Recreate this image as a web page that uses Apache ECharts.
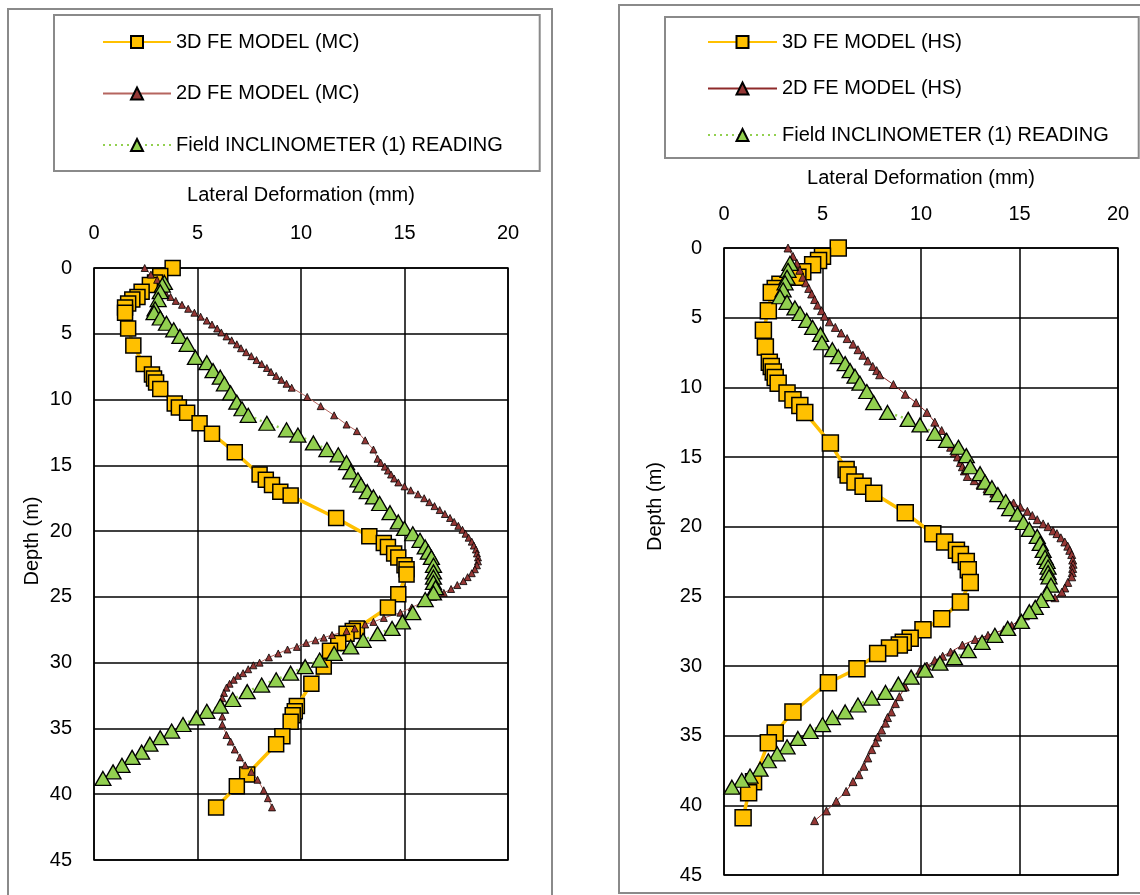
<!DOCTYPE html>
<html><head><meta charset="utf-8">
<script src="https://cdn.jsdelivr.net/npm/echarts@6/dist/echarts.min.js"></script>
<style>html,body{margin:0;padding:0;background:#fff}#c{width:1140px;height:895px}</style>
</head><body><div id="c"></div>
<script>
// [lateral deformation (mm), depth (m)]
const fe3dMC = [[3.8,0],[3.2,0.6],[2.95,1.1],[2.7,1.3],[2.3,1.8],[2.1,2.2],[1.85,2.4],[1.65,2.7],[1.5,3.0],[1.5,3.4],[1.65,4.6],[1.9,5.9],[2.4,7.3],[2.8,8.1],[2.9,8.4],[3.0,8.7],[3.2,9.2],[3.9,10.3],[4.1,10.6],[4.5,11.0],[5.1,11.8],[5.7,12.6],[6.8,14.0],[8.0,15.7],[8.3,16.1],[8.6,16.5],[9.0,17.0],[9.5,17.3],[11.7,19.0],[13.3,20.4],[14.0,20.9],[14.2,21.2],[14.5,21.7],[14.7,22.0],[15.0,22.6],[15.1,22.9],[15.1,23.3],[14.7,24.8],[14.2,25.8],[12.7,27.4],[12.5,27.6],[12.2,27.8],[11.8,28.5],[11.4,29.1],[11.1,30.3],[10.5,31.6],[9.8,33.3],[9.7,33.7],[9.6,34.0],[9.5,34.5],[9.1,35.6],[8.8,36.2],[7.4,38.5],[6.9,39.4],[5.9,41.0]];

const fe2dMC = [[2.45,0.0],[2.75,0.5],[3.05,0.9],[3.2,1.3],[3.35,1.6],[3.45,1.9],[3.7,2.2],[3.95,2.5],[4.25,2.8],[4.55,3.1],[4.85,3.4],[5.15,3.7],[5.45,4.0],[5.7,4.3],[5.95,4.6],[6.15,4.9],[6.4,5.2],[6.65,5.5],[6.9,5.8],[7.1,6.1],[7.35,6.4],[7.6,6.7],[7.85,7.0],[8.1,7.3],[8.35,7.6],[8.55,7.9],[8.8,8.2],[9.05,8.5],[9.3,8.8],[9.55,9.1],[10.3,9.8],[10.95,10.5],[11.6,11.2],[12.2,11.9],[12.7,12.4],[13.1,13.1],[13.5,13.8],[13.7,14.5],[13.85,14.8],[14.05,15.1],[14.2,15.4],[14.35,15.7],[14.5,16.0],[14.7,16.3],[15.0,16.6],[15.3,16.9],[15.65,17.2],[15.95,17.5],[16.2,17.8],[16.45,18.1],[16.7,18.4],[16.95,18.7],[17.2,19.0],[17.4,19.3],[17.6,19.6],[17.8,19.9],[17.95,20.2],[18.1,20.5],[18.25,20.8],[18.35,21.1],[18.45,21.4],[18.5,21.7],[18.55,22.0],[18.55,22.3],[18.5,22.6],[18.4,22.9],[18.25,23.2],[18.05,23.5],[17.85,23.8],[17.55,24.1],[17.25,24.4],[16.9,24.7],[16.4,25.0],[15.9,25.4],[15.35,25.8],[14.8,26.2],[14.0,26.6],[13.5,26.9],[13.1,27.1],[12.6,27.4],[12.2,27.6],[11.5,27.9],[11.1,28.1],[10.7,28.3],[10.25,28.5],[9.8,28.8],[9.35,29.0],[8.9,29.3],[8.45,29.6],[8.0,30.0],[7.7,30.2],[7.45,30.5],[7.2,30.8],[6.95,31.0],[6.75,31.3],[6.55,31.6],[6.4,31.9],[6.28,32.3],[6.2,32.7],[6.17,33.1],[6.17,33.5],[6.2,34.1],[6.2,34.7],[6.4,35.5],[6.6,36.0],[6.8,36.6],[7.05,37.2],[7.3,37.8],[7.6,38.3],[7.9,38.9],[8.2,39.7],[8.4,40.3],[8.6,41.0]];

const fieldL = [[3.4,1.1],[3.3,1.3],[3.2,1.8],[3.1,2.4],[2.95,3.1],[2.9,3.4],[3.2,3.8],[3.5,4.2],[3.85,4.7],[4.15,5.2],[4.5,5.8],[4.9,6.8],[5.45,7.2],[5.75,7.8],[6.1,8.3],[6.3,8.8],[6.6,9.5],[6.9,10.2],[7.15,10.7],[7.45,11.2],[8.35,11.8],[9.3,12.3],[9.85,12.7],[10.6,13.3],[11.25,13.8],[11.8,14.2],[12.2,14.8],[12.4,15.5],[12.75,16.1],[12.9,16.5],[13.2,17.0],[13.5,17.4],[13.8,17.9],[14.3,18.6],[14.7,19.3],[15.0,19.8],[15.4,20.2],[15.75,20.7],[16.0,21.2],[16.15,21.6],[16.3,22.0],[16.4,22.6],[16.4,23.1],[16.4,23.5],[16.4,23.9],[16.5,24.3],[16.4,24.7],[16.0,25.2],[15.4,26.2],[14.9,26.9],[14.4,27.4],[13.7,27.8],[13.0,28.3],[12.4,28.8],[11.6,29.3],[10.9,29.8],[10.2,30.3],[9.5,30.8],[8.8,31.3],[8.1,31.7],[7.4,32.2],[6.7,32.8],[6.1,33.3],[5.45,33.7],[4.95,34.2],[4.3,34.7],[3.75,35.2],[3.2,35.7],[2.7,36.2],[2.3,36.8],[1.84,37.2],[1.35,37.8],[0.92,38.3],[0.43,38.8]];

const fe3dHS = [[5.8,0.0],[5.0,0.6],[4.8,0.9],[4.5,1.2],[4.0,1.7],[3.75,2.1],[2.84,2.6],[2.6,2.9],[2.4,3.2],[2.25,4.5],[2.0,5.9],[2.1,7.1],[2.3,8.2],[2.4,8.5],[2.5,8.9],[2.6,9.3],[2.75,9.7],[3.2,10.4],[3.5,10.9],[3.85,11.3],[4.1,11.8],[5.4,14.0],[6.2,15.9],[6.3,16.3],[6.65,16.8],[7.06,17.1],[7.6,17.6],[9.2,19.0],[10.6,20.5],[11.2,21.1],[11.8,21.7],[12.0,22.0],[12.3,22.5],[12.4,23.1],[12.5,24.0],[12.0,25.4],[11.05,26.6],[10.1,27.4],[9.45,28.0],[9.1,28.3],[8.9,28.5],[8.4,28.7],[7.8,29.1],[6.75,30.2],[5.3,31.2],[3.5,33.3],[2.6,34.8],[2.25,35.5],[1.5,38.3],[1.25,39.1],[0.97,40.9]];

const fe2dHS = [[3.25,0.0],[3.5,0.6],[3.7,1.1],[3.85,1.6],[4.0,2.1],[4.15,2.5],[4.3,2.9],[4.45,3.3],[4.6,3.7],[4.75,4.1],[4.95,4.5],[5.1,4.9],[5.35,5.3],[5.65,5.7],[5.95,6.1],[6.25,6.5],[6.55,6.9],[6.8,7.3],[7.05,7.7],[7.3,8.1],[7.55,8.5],[7.75,8.8],[7.9,9.1],[8.6,9.8],[9.2,10.5],[9.75,11.1],[10.3,11.8],[10.7,12.5],[11.05,13.1],[11.25,13.6],[11.4,14.0],[11.5,14.3],[11.7,14.7],[11.85,15.0],[12.0,15.4],[12.1,15.7],[12.2,16.0],[12.35,16.4],[12.7,16.7],[13.0,17.0],[13.35,17.3],[13.7,17.6],[14.0,17.9],[14.7,18.3],[15.05,18.6],[15.4,18.9],[15.65,19.2],[15.9,19.5],[16.2,19.8],[16.45,20.0],[16.7,20.3],[16.9,20.5],[17.1,20.8],[17.3,21.1],[17.45,21.4],[17.55,21.7],[17.65,22.0],[17.7,22.4],[17.72,22.7],[17.7,23.0],[17.68,23.3],[17.65,23.6],[17.45,24.0],[17.3,24.4],[17.15,24.7],[16.8,25.1],[16.2,25.5],[15.7,26.0],[15.3,26.4],[15.0,26.7],[14.6,27.1],[14.2,27.4],[13.4,27.8],[12.75,28.1],[12.1,28.5],[11.5,29.0],[11.1,29.3],[10.7,29.6],[10.3,30.0],[9.95,30.3],[9.55,30.8],[9.2,31.5],[8.9,32.2],[8.7,32.7],[8.5,33.3],[8.3,33.7],[8.2,34.1],[8.0,34.6],[7.8,35.1],[7.7,35.5],[7.5,36.0],[7.3,36.6],[7.1,37.2],[6.85,37.8],[6.55,38.3],[6.2,39.0],[5.7,39.7],[5.2,40.4],[4.6,41.1]];

const fieldR = [[3.35,1.1],[3.25,1.6],[3.2,2.1],[3.1,2.5],[3.0,3.0],[2.84,3.5],[3.2,3.9],[3.6,4.3],[3.86,4.7],[4.2,5.2],[4.5,5.7],[4.9,6.2],[4.97,6.8],[5.5,7.3],[5.8,7.8],[6.15,8.3],[6.4,8.8],[6.65,9.2],[6.9,9.7],[7.25,10.3],[7.6,11.1],[8.3,11.8],[9.35,12.3],[9.95,12.7],[10.7,13.3],[11.3,13.8],[11.9,14.3],[12.3,14.9],[12.5,15.7],[13.0,16.2],[13.25,16.8],[13.6,17.2],[13.9,17.7],[14.3,18.2],[14.5,18.7],[14.9,19.1],[15.2,19.7],[15.5,20.2],[15.9,20.7],[16.05,21.2],[16.2,21.7],[16.3,22.2],[16.4,22.5],[16.45,22.9],[16.45,23.3],[16.5,23.6],[16.6,24.2],[16.4,24.8],[16.1,25.3],[15.8,25.8],[15.5,26.1],[15.1,26.8],[14.4,27.3],[13.75,27.8],[13.1,28.3],[12.4,28.9],[11.7,29.4],[10.96,29.8],[10.2,30.3],[9.5,30.8],[8.85,31.3],[8.2,31.9],[7.5,32.3],[6.8,32.8],[6.15,33.3],[5.5,33.7],[5.0,34.2],[4.37,34.7],[3.75,35.2],[3.2,35.8],[2.7,36.3],[2.25,36.8],[1.83,37.4],[1.32,37.9],[0.9,38.2],[0.4,38.7]];

const seriesNamesL = ['3D FE MODEL (MC)', '2D FE MODEL (MC)', 'Field INCLINOMETER (1) READING'];
const seriesNamesR = ['3D FE MODEL (HS)', '2D FE MODEL (HS)', 'Field INCLINOMETER (1) READING'];
const xAxisTitle = 'Lateral Deformation (mm)';
const yAxisTitle = 'Depth (m)';

const FONT = '"Liberation Sans", Arial, sans-serif';
const chart = echarts.init(document.getElementById('c'), null, {renderer: 'canvas'});

function xAx(gi, gap, margin) {
  return {
    gridIndex: gi, type: 'value', position: 'top', min: 0, max: 20, interval: 5,
    axisLine: {show: false}, axisTick: {show: false},
    axisLabel: {margin: margin, fontSize: 20, color: '#000', fontFamily: FONT},
    splitLine: {show: true, lineStyle: {color: '#000', width: 1.5}},
    name: xAxisTitle, nameLocation: 'middle', nameGap: gap,
    nameTextStyle: {fontSize: 20, color: '#000', fontFamily: FONT}
  };
}
function yAx(gi, gap, shift) {
  return {
    gridIndex: gi, type: 'value', inverse: true, min: 0, max: 45, interval: 5,
    axisLine: {show: false}, axisTick: {show: false},
    axisLabel: {margin: 22, fontSize: 20, color: '#000', fontFamily: FONT},
    splitLine: {show: true, lineStyle: {color: '#000', width: 1.5}},
    name: yAxisTitle, nameLocation: 'middle', nameGap: gap,
    nameTextStyle: {fontSize: 20, color: '#000', fontFamily: FONT, padding: [0, 0, 0, shift]}
  };
}
function s3d(name, data, gi, size) {
  return {name, type: 'line', xAxisIndex: gi, yAxisIndex: gi, data,
    symbol: 'rect', symbolSize: size, showAllSymbol: true,
    itemStyle: {color: '#FFC000', borderColor: '#000', borderWidth: 1.5},
    lineStyle: {color: '#FFC000', width: 3.5}, emphasis: {disabled: true}};
}
function s2d(name, data, gi, size, lineColor) {
  return {name, type: 'line', xAxisIndex: gi, yAxisIndex: gi, data,
    symbol: 'triangle', symbolSize: size, showAllSymbol: true,
    itemStyle: {color: '#953735', borderColor: '#000', borderWidth: 0.8},
    lineStyle: {color: lineColor, width: 1}, emphasis: {disabled: true}};
}
function sField(name, data, gi, size) {
  return {name, type: 'line', xAxisIndex: gi, yAxisIndex: gi, data,
    symbol: 'triangle', symbolSize: size, showAllSymbol: true,
    itemStyle: {color: '#92D050', borderColor: '#000', borderWidth: 1.3},
    lineStyle: {color: '#92D050', width: 2.5, type: [2, 4]}, emphasis: {disabled: true}};
}

const legendText = {fontSize: 20, lineHeight: 20, color: '#000', fontFamily: FONT};

chart.setOption({
  animation: false,
  backgroundColor: '#fff',
  graphic: [
    {type: 'rect', silent: true, z: -10, shape: {x: 8, y: 9, width: 544, height: 900},
     style: {fill: 'none', stroke: '#8a8a8a', lineWidth: 2}},
    {type: 'rect', silent: true, z: -10, shape: {x: 619, y: 5, width: 540, height: 888},
     style: {fill: 'none', stroke: '#8a8a8a', lineWidth: 2}}
  ],
  legend: [
    {orient: 'vertical', left: 54, top: 15, padding: [17, 37, 16, 48], itemGap: 31.5,
     itemWidth: 68, itemHeight: 15, borderColor: '#8a8a8a', borderWidth: 2,
     selectedMode: false, textStyle: legendText, data: seriesNamesL},
    {orient: 'vertical', left: 665, top: 17, padding: [15, 30, 13, 42], itemGap: 26.5,
     itemWidth: 69, itemHeight: 15, borderColor: '#8a8a8a', borderWidth: 2,
     selectedMode: false, textStyle: legendText, data: seriesNamesR}
  ],
  grid: [
    {left: 94, top: 268, width: 414, height: 592, show: true, borderColor: '#000', borderWidth: 1.5, containLabel: false},
    {left: 724, top: 248, width: 394, height: 627, show: true, borderColor: '#000', borderWidth: 1.5, containLabel: false}
  ],
  xAxis: [xAx(0, 63, 25), xAx(1, 60, 24)],
  yAxis: [yAx(0, 52, 46), yAx(1, 59, 110)],
  series: [
    s3d(seriesNamesL[0], fe3dMC, 0, 15),
    s2d(seriesNamesL[1], fe2dMC, 0, 7, '#B5655F'),
    sField(seriesNamesL[2], fieldL, 0, [16, 14]),
    s3d(seriesNamesR[0], fe3dHS, 1, 16),
    s2d(seriesNamesR[1], fe2dHS, 1, 8, '#8E2A2A'),
    sField(seriesNamesR[2], fieldR, 1, [16, 14])
  ]
});
</script>
</body></html>
